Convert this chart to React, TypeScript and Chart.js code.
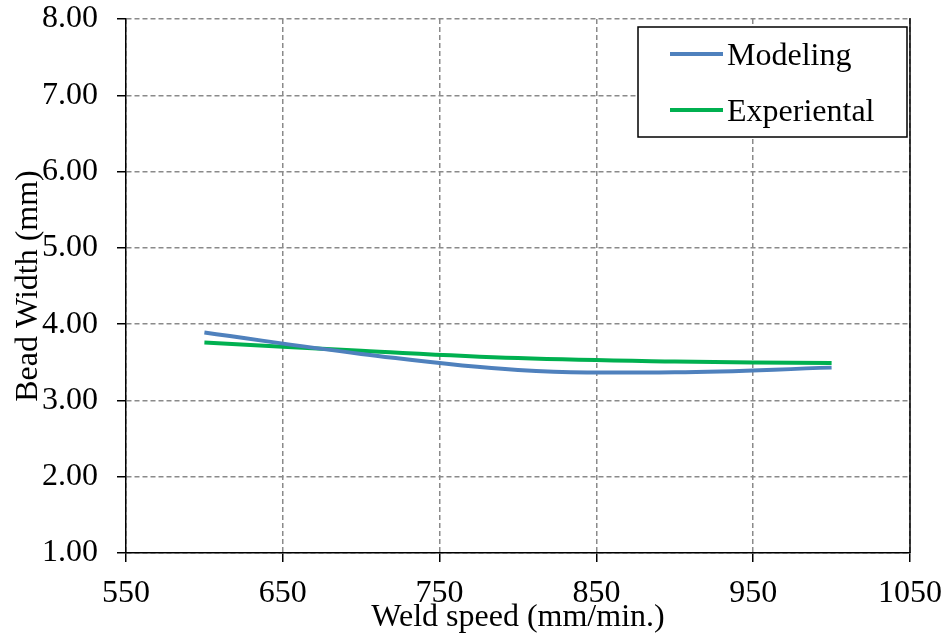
import React, { useEffect, useRef } from "react";
import { Chart, registerables } from "chart.js";

Chart.register(...registerables);

// Weld speed (mm/min.) of each measurement
const weldSpeeds = [600, 700, 800, 900, 1000];
// Bead width (mm) per series
const modeling = [3.89, 3.61, 3.4, 3.37, 3.43];
const experiental = [3.76, 3.65, 3.555, 3.51, 3.49];
const seriesNames = ["Modeling", "Experiental"];
const seriesColors = ["#4F81BD", "#00B050"];
// Axis ranges
const xRange = { min: 550, max: 1050, step: 100 };
const yRange = { min: 1, max: 8, step: 1 };

const FONT = '"Liberation Serif", "Times New Roman", serif';
const FONT_SIZE = 32;
const W = 948;
const H = 639;

// Solid right edge of the plot frame
const frameRight = {
  id: "frameRight",
  afterDraw(chart: any) {
    const { ctx, chartArea } = chart;
    ctx.save();
    ctx.strokeStyle = "#000";
    ctx.lineWidth = 1.5;
    ctx.beginPath();
    ctx.moveTo(chartArea.right, chartArea.top - 1);
    ctx.lineTo(chartArea.right, chartArea.bottom);
    ctx.stroke();
    ctx.restore();
  },
};

// Boxed legend in the upper-right corner of the plot
const boxedLegend = {
  id: "boxedLegend",
  afterDraw(chart: any) {
    const { ctx, chartArea } = chart;
    const right = chartArea.right - 3;
    const left = right - 269;
    const top = chartArea.top + 8;
    const h = 110;
    ctx.save();
    ctx.fillStyle = "#fff";
    ctx.fillRect(left, top, right - left, h);
    ctx.strokeStyle = "#000";
    ctx.lineWidth = 1.5;
    ctx.strokeRect(left, top, right - left, h);
    ctx.font = `${FONT_SIZE}px ${FONT}`;
    ctx.textBaseline = "alphabetic";
    ctx.textAlign = "left";
    chart.data.datasets.forEach((ds: any, i: number) => {
      const y = top + 27 + i * 56;
      ctx.strokeStyle = ds.borderColor;
      ctx.lineWidth = 4;
      ctx.beginPath();
      ctx.moveTo(left + 32, y);
      ctx.lineTo(left + 85, y);
      ctx.stroke();
      ctx.fillStyle = "#000";
      ctx.fillText(ds.label, left + 89, y + 11);
    });
    ctx.restore();
  },
};

const gridStyle = {
  color: "#8a8a8a",
  lineWidth: 1.5,
  tickLength: 9,
  tickColor: "#000",
  tickWidth: 1.5,
  tickBorderDash: [],
};

export default function App() {
  const canvasRef = useRef<HTMLCanvasElement | null>(null);

  useEffect(() => {
    const canvas = canvasRef.current;
    if (!canvas) return;
    const series = [modeling, experiental];
    const chart = new Chart(canvas, {
      type: "line",
      data: {
        datasets: series.map((vals, i) => ({
          label: seriesNames[i],
          data: weldSpeeds.map((x, j) => ({ x, y: vals[j] })),
          borderColor: seriesColors[i],
          backgroundColor: seriesColors[i],
          borderWidth: 4,
          pointRadius: 0,
          pointHoverRadius: 0,
          tension: 0.4,
          fill: false,
        })),
      },
      options: {
        responsive: false,
        animation: false,
        events: [],
        layout: { padding: { top: 19, right: 38, left: 0, bottom: 0 } },
        plugins: {
          legend: { display: false },
          tooltip: { enabled: false },
        },
        scales: {
          x: {
            type: "linear",
            min: xRange.min,
            max: xRange.max,
            afterFit(scale: any) {
              scale.height = 86;
              scale.paddingLeft = 0;
              scale.paddingRight = 0;
            },
            ticks: {
              stepSize: xRange.step,
              color: "#000",
              font: { family: FONT, size: FONT_SIZE },
              padding: 12,
              maxRotation: 0,
              autoSkip: false,
              callback: (v: any) => String(v),
            },
            grid: gridStyle,
            border: { display: true, color: "#000", width: 1.5, dash: [5, 3] },
            title: {
              display: true,
              text: "Weld speed (mm/min.)",
              color: "#000",
              font: { family: FONT, size: FONT_SIZE },
              padding: { top: 0, bottom: 2 },
            },
          },
          y: {
            type: "linear",
            min: yRange.min,
            max: yRange.max,
            afterFit(scale: any) {
              scale.width = 126;
              scale.paddingTop = 0;
              scale.paddingBottom = 0;
            },
            ticks: {
              stepSize: yRange.step,
              color: "#000",
              font: { family: FONT, size: FONT_SIZE },
              padding: 19,
              callback: (v: any) => Number(v).toFixed(2),
            },
            grid: gridStyle,
            border: { display: true, color: "#000", width: 1.5, dash: [5, 3] },
            title: {
              display: true,
              text: "Bead Width (mm)",
              color: "#000",
              font: { family: FONT, size: FONT_SIZE },
              padding: { top: 9, bottom: 0 },
            },
          },
        },
      },
      plugins: [frameRight, boxedLegend],
    });
    return () => chart.destroy();
  }, []);

  return (
    <div style={{ position: "absolute", left: 0, top: 0, width: W, height: H, background: "#fff" }}>
      <canvas ref={canvasRef} width={W} height={H} style={{ display: "block" }} />
    </div>
  );
}
